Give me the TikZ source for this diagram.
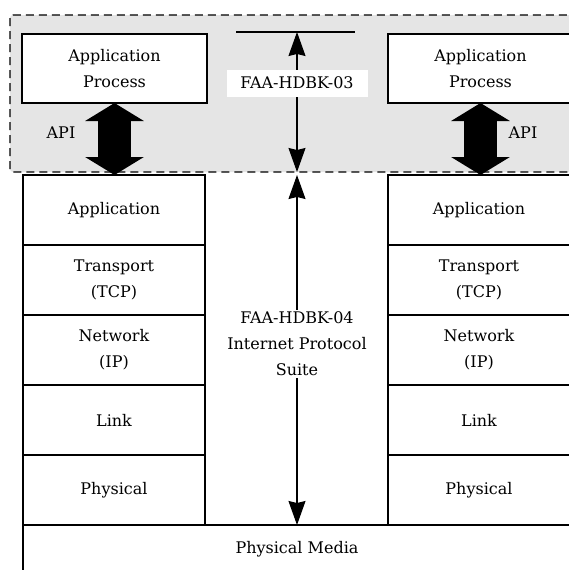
\documentclass[tikz,border=0pt]{standalone}
\usepackage{fontspec}
\setmainfont{DejaVu Serif}
\usetikzlibrary{positioning, arrows.meta}

\tikzset{
  txt/.style={font=\fontsize{16}{26}\selectfont, align=center, inner sep=2pt},
  layer/.style={txt, rectangle, draw, line width=1.1pt, minimum width=182pt, minimum height=70pt, inner sep=0pt, outer sep=0pt},
  proc/.style={txt, rectangle, draw, fill=white, line width=1.1pt, minimum width=185pt, minimum height=69pt, outer sep=0pt},
  media/.style={txt, rectangle, draw, line width=1.1pt, minimum width=548pt, minimum height=48pt, inner sep=0pt, outer sep=0pt},
  sep/.style={line width=2.4pt},
  api/.style={line width=33pt, {Triangle[width=58pt,length=18pt]}-{Triangle[width=58pt,length=18pt]}},
  thin/.style={line width=1.2pt, {Stealth[width=17pt,length=24pt,inset=2pt]}-{Stealth[width=17pt,length=24pt,inset=2pt]}}
}

\begin{document}
\begin{tikzpicture}[x=1pt, y=-1pt]
  \useasboundingbox (0,0) rectangle (569,570);
  \clip (0,0) rectangle (569,570);

  % shaded application area
  \filldraw[fill=black!10, line width=1.3pt, dash pattern=on 8pt off 5pt, rounded corners=3pt]
    (10,15) rectangle (590,172);

  % left stack
  \node[layer, anchor=north west] (lapp) at (23,175) {Application};
  \node[layer, below=0pt of lapp] (ltrans) {Transport\\(TCP)};
  \node[layer, below=0pt of ltrans] (lnet) {Network\\(IP)};
  \node[layer, below=0pt of lnet] (llink) {Link};
  \node[layer, below=0pt of llink] (lphys) {Physical};

  % right stack
  \node[layer, anchor=north west] (rapp) at (388,175) {Application};
  \node[layer, below=0pt of rapp] (rtrans) {Transport\\(TCP)};
  \node[layer, below=0pt of rtrans] (rnet) {Network\\(IP)};
  \node[layer, below=0pt of rnet] (rlink) {Link};
  \node[layer, below=0pt of rlink] (rphys) {Physical};

  \node[media, below right=0pt and 0pt of lphys.south west, anchor=north west] (media) {Physical Media};

  \foreach \n in {lapp,ltrans,lnet,llink,lphys,rapp,rtrans,rnet,rlink,rphys}
    \draw[sep] (\n.north west) -- (\n.north east);
  \draw[sep] (lphys.south west) -- (lphys.south east);
  \draw[sep] (rphys.south west) -- (rphys.south east);

  % application processes
  \node[proc, anchor=north west] (lproc) at (22,34) {Application\\Process};
  \node[proc, anchor=north west] (rproc) at (388,34) {Application\\Process};

  \draw[api] (lproc.south) -- (lproc.south |- lapp.north);
  \draw[api] (rproc.south) -- (rproc.south |- rapp.north);
  \node[txt] (lapi) at (61,133) {API};
  \node[txt] (rapi) at (523,133) {API};

  % handbook scopes
  \coordinate (top03) at (297,32);
  \coordinate (bot03) at (297,172);
  \draw[line width=1.2pt] (236,32) -- (355,32);
  \draw[thin] (top03) -- (bot03);
  \node[txt, fill=white, minimum width=141pt, minimum height=27pt] (hdbk03) at (297,83) {FAA-HDBK-03};

  \draw[thin] (media.north |- lapp.north) -- (media.north);
  \node[txt, fill=white] (hdbk04) at (297,344) {FAA-HDBK-04\\Internet Protocol\\Suite};
\end{tikzpicture}
\end{document}
